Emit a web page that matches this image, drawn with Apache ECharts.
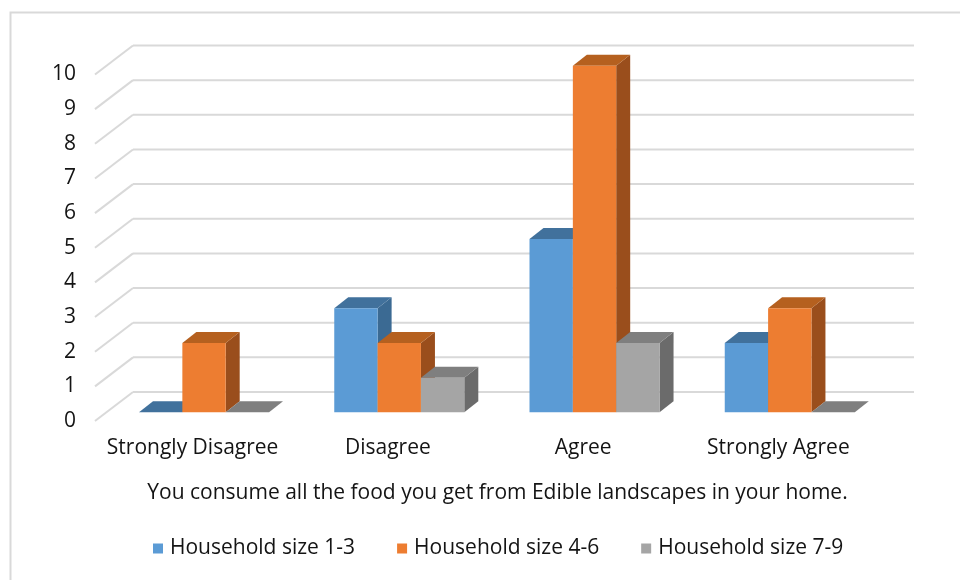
<!DOCTYPE html>
<html>
<head>
<meta charset="utf-8">
<script src="https://cdn.jsdelivr.net/npm/echarts@6/dist/echarts.min.js"></script>
<style>
  html, body { margin: 0; padding: 0; background: #fff; }
  #main { width: 960px; height: 580px; }
</style>
</head>
<body>
<div id="main"></div>
<script>
var categories = ['Strongly Disagree', 'Disagree', 'Agree', 'Strongly Agree'];
var seriesNames = ['Household size 1-3', 'Household size 4-6', 'Household size 7-9'];
var size13 = [0, 3, 5, 2];
var size46 = [2, 2, 10, 3];
var size79 = [0, 1, 2, 0];
var yTicks = [0, 1, 2, 3, 4, 5, 6, 7, 8, 9, 10];
var axisTitle = 'You consume all the food you get from Edible landscapes in your home.';

// face colours: front, top, side
var palette = [
  ['#5B9BD5', '#41719C', '#3B6A93'],
  ['#ED7D31', '#B5601F', '#9A4E1C'],
  ['#A5A5A5', '#7F7F7F', '#6B6B6B']
];

// oblique depth offsets (px)
var WALL_DX = 38, WALL_DY = -29;   // front floor edge -> back wall
var BAR_DX0 = 11.4, BAR_DY0 = -8.7; // front floor edge -> bar front face
var BAR_DX = 14, BAR_DY = -11;     // bar depth

var font = '"Open Sans", Lato, sans-serif';
var txt = '#141414';

var myChart = echarts.init(document.getElementById('main'));

function barSeries(k, values) {
  return {
    name: seriesNames[k],
    type: 'custom',
    itemStyle: { color: palette[k][0] },
    data: values.map(function (v, i) { return [i, v]; }),
    renderItem: function (params, api) {
      var top = api.coord([api.value(0), api.value(1)]);
      var base = api.coord([api.value(0), 0]);
      var band = api.size([1, 0])[0];
      var w = band * 0.222;
      var x0 = top[0] + (k - 1.5) * w + BAR_DX0;
      var yt = top[1] + BAR_DY0;
      var yb = base[1] + BAR_DY0;
      var c = palette[k];
      return {
        type: 'group',
        children: [
          { type: 'polygon', shape: { points: [[x0 + w, yt], [x0 + w + BAR_DX, yt + BAR_DY], [x0 + w + BAR_DX, yb + BAR_DY], [x0 + w, yb]] },
            style: { fill: c[2] } },
          { type: 'polygon', shape: { points: [[x0, yt], [x0 + BAR_DX, yt + BAR_DY], [x0 + w + BAR_DX, yt + BAR_DY], [x0 + w, yt]] },
            style: { fill: c[1] } },
          { type: 'rect', shape: { x: x0, y: yt, width: w, height: yb - yt },
            style: { fill: c[0] } }
        ]
      };
    }
  };
}

var option = {
  animation: false,
  backgroundColor: '#fff',
  textStyle: { fontFamily: font },
  graphic: [{
    type: 'rect', left: 8, top: 10,
    shape: { width: 1000, height: 1000 },
    style: { fill: 'none', stroke: '#D9D9D9', lineWidth: 2 },
    silent: true
  }],
  grid: { left: 95, right: 84, top: 74.5, bottom: 159 },
  legend: {
    data: seriesNames,
    bottom: 16,
    left: 148,
    icon: 'rect',
    itemWidth: 10,
    itemHeight: 10,
    itemGap: 42,
    textStyle: { fontSize: 21, color: txt, fontFamily: font, padding: [0, 0, 0, 2] }
  },
  xAxis: {
    type: 'category',
    data: categories,
    axisLine: { show: false },
    axisTick: { show: false },
    axisLabel: { fontSize: 21, color: txt, margin: 17, interval: 0 },
    name: axisTitle,
    nameLocation: 'middle',
    nameGap: 62,
    nameTextStyle: { fontSize: 21, color: txt, padding: [0, 0, 0, 24] }
  },
  yAxis: {
    type: 'value',
    min: 0,
    max: 10,
    interval: 1,
    axisLine: { show: false },
    axisTick: { show: false },
    splitLine: { show: false },
    axisLabel: { fontSize: 21, color: txt, margin: 19 }
  },
  series: [
    {
      name: 'wall',
      type: 'custom',
      silent: true,
      z: 1,
      data: yTicks.map(function (v) { return [0, v]; }),
      renderItem: function (params, api) {
        var p = api.coord([0, api.value(1)]);
        var x0 = params.coordSys.x;
        var x1 = x0 + params.coordSys.width;
        var y = p[1];
        var ls = { stroke: '#D9D9D9', lineWidth: 2 };
        return {
          type: 'group',
          children: [
            { type: 'line', shape: { x1: x0, y1: y, x2: x0 + WALL_DX, y2: y + WALL_DY }, style: ls },
            { type: 'line', shape: { x1: x0 + WALL_DX, y1: y + WALL_DY, x2: x1 + WALL_DX, y2: y + WALL_DY }, style: ls }
          ]
        };
      }
    },
    barSeries(0, size13),
    barSeries(1, size46),
    barSeries(2, size79)
  ]
};

myChart.setOption(option);
</script>
</body>
</html>
